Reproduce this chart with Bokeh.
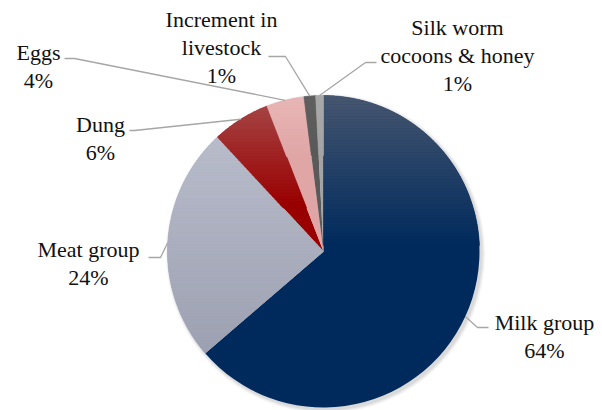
import math
from bokeh.plotting import figure
from bokeh.models import Range1d
from bokeh.core.properties import value
from bokeh.embed import file_html
from bokeh.resources import INLINE

# ---------------- data ----------------
categories = ["Milk group", "Meat group", "Dung", "Eggs",
              "Increment in\nlivestock", "Silk worm\ncocoons & honey"]
shares = [63.7, 24.4, 6.0, 3.9, 1.2, 0.8]

# ---------------- style / layout ----------------
W, H = 602, 410
CX, CY_PX, R = 323, 251, 156
top_colors = ["#46566F", "#B8BCCB", "#A54444", "#E8B6B6", "#606060", "#A8A8A8"]
bot_colors = ["#002A5C", "#9DA1B1", "#990000", "#E0A6A6", "#5A5A5A", "#A4A4A4"]
grad_span = [150, 216, 100, 60, 60, 60]   # pixel height over which gradient runs
# label layout: (center x px, first line y px), leader elbow & end (px)
label_pos = [(544, 322), (88, 249), (100, 124), (38, 52), (221, 19), (457, 27)]
leader_pts = [[(477, 327), (488, 327)],
              [(160, 257), (148, 257)],
              [(134, 130), (129, 130)],
              [(74, 58), (64, 58)],
              [(285, 56), (268, 56)],
              [(365, 62), (376, 62)]]
LINE_H = 28


def Y(py):
    return H - py


CY = Y(CY_PX)

p = figure(width=W, height=H, x_range=Range1d(0, W), y_range=Range1d(0, H),
           x_axis_type=None, y_axis_type=None, toolbar_location=None,
           output_backend="svg", min_border=0, outline_line_color=None,
           background_fill_color="white", border_fill_color="white")
p.grid.visible = False

# soft shadow
for dr, a in [(4, 0.05), (3, 0.07), (2, 0.09), (1, 0.12)]:
    p.circle(x=[CX + 2], y=[CY - 2], radius=R + dr, fill_color="#808080",
             fill_alpha=a, line_color=None)

total = sum(shares)
fracs = [s / total for s in shares]
starts, ends = [], []
acc = 0.0
for f in fracs:
    starts.append(acc)
    acc += f
    ends.append(acc)


def ang(frac):
    return math.pi / 2 - 2 * math.pi * frac


# base wedges
p.wedge(x=[CX] * len(shares), y=[CY] * len(shares), radius=R,
        start_angle=[ang(s) for s in starts], end_angle=[ang(e) for e in ends],
        direction="clock", fill_color=bot_colors, line_color=None)


def hex2rgb(h):
    h = h.lstrip("#")
    return [int(h[i:i + 2], 16) for i in (0, 2, 4)]


def mix(c1, c2, t):
    a, b = hex2rgb(c1), hex2rgb(c2)
    return "#%02x%02x%02x" % tuple(int(round(a[i] + (b[i] - a[i]) * t)) for i in range(3))


def clip_half(poly, yv, keep_above):
    out = []
    n = len(poly)
    for i in range(n):
        cur, prv = poly[i], poly[i - 1]
        cin = cur[1] >= yv if keep_above else cur[1] <= yv
        pin = prv[1] >= yv if keep_above else prv[1] <= yv
        if cin:
            if not pin:
                t = (yv - prv[1]) / (cur[1] - prv[1])
                out.append((prv[0] + t * (cur[0] - prv[0]), yv))
            out.append(cur)
        elif pin:
            t = (yv - prv[1]) / (cur[1] - prv[1])
            out.append((prv[0] + t * (cur[0] - prv[0]), yv))
    return out


# gradient overlay bands per slice
xs_all, ys_all, cols = [], [], []
for i, (s, e) in enumerate(zip(starts, ends)):
    n = max(4, int((e - s) * 400))
    poly = [(CX, CY)]
    for k in range(n + 1):
        a = ang(s + (e - s) * k / n)
        poly.append((CX + R * math.cos(a), CY + R * math.sin(a)))
    ytop = max(pt[1] for pt in poly)
    band = 3
    yb = ytop
    while yb > ytop - grad_span[i]:
        y1, y0 = yb, yb - band
        piece = clip_half(clip_half(poly, y0, True), y1, False)
        if len(piece) >= 3:
            t = min(1.0, (ytop - (y0 + y1) / 2) / grad_span[i])
            xs_all.append([q[0] for q in piece])
            ys_all.append([q[1] for q in piece])
            cols.append(mix(top_colors[i], bot_colors[i], t))
        yb -= band
p.patches(xs=xs_all, ys=ys_all, fill_color=cols, line_color=cols, line_width=0.6)

# leader lines and labels
FONT = value("Liberation Serif")
tx, ty, tt = [], [], []
for i, cat in enumerate(categories):
    mid = (starts[i] + ends[i]) / 2
    a = ang(mid)
    ax, ay = CX + R * math.cos(a), CY + R * math.sin(a)
    lx = [ax] + [q[0] for q in leader_pts[i]]
    ly = [ay] + [Y(q[1]) for q in leader_pts[i]]
    p.line(x=lx, y=ly, line_color="#A6A6A6", line_width=1.3)
    lines = cat.split("\n") + ["%d%%" % round(shares[i] / total * 100)]
    cx_, cy_ = label_pos[i]
    for j, ln in enumerate(lines):
        tx.append(cx_)
        ty.append(Y(cy_ + j * LINE_H))
        tt.append(ln)
p.text(x=tx, y=ty, text=tt, text_font=FONT, text_font_size="22px",
       text_align="center", text_baseline="middle", text_color="#111111")

open("out.html", "w").write(file_html(p, INLINE))
